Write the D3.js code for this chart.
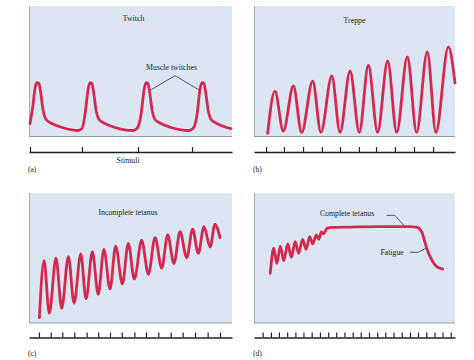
<!DOCTYPE html>
<html><head><meta charset="utf-8">
<script src="https://cdn.jsdelivr.net/npm/d3@7/dist/d3.min.js"></script>
<style>
body{margin:0;background:#fff;}
text{font-family:"Liberation Serif","DejaVu Serif",serif;fill:#222;}
</style>
</head><body>
<svg id="chart" width="474" height="360"></svg>
<script>
// ---- Data (time and tension in relative units, 0-100) ----
const twitchTime = [0.5,2.0,3.0,3.9,4.9,5.9,6.9,8.4,11.3,16.3,21.2,24.1,26.1,27.6,29.1,30.0,31.0,32.0,33.0,34.5,37.4,42.4,47.3,51.2,53.2,55.2,56.7,57.6,58.6,59.6,60.6,62.1,65.0,69.9,74.9,78.8,80.8,82.8,84.2,85.2,86.2,87.2,88.2,89.7,92.6,96.6,99.5];
const twitchTension = [9.9,24.4,37.4,41.2,40.5,32.1,20.6,13.0,9.9,6.9,5.0,4.6,6.1,16.8,35.9,41.2,40.5,32.1,20.6,13.0,9.9,6.9,5.0,4.6,6.1,16.8,35.9,41.2,40.5,32.1,20.6,13.0,9.9,6.9,5.0,4.6,6.1,16.8,35.9,41.2,40.5,32.1,20.6,13.0,9.9,7.3,6.1];
const twitchStimuli = [0.5,26.1,53.7,80.3];

const treppeTime = [6.8,10.4,14.6,19.6,23.7,29.2,33.3,38.7,42.8,47.8,52.4,56.9,61.5,66.5,71.0,76.3,80.9,86.2,90.5,96.7,100];
const treppeTension = [2.5,34.8,4.1,38.7,3.1,42.5,3.1,46.4,3.1,50.2,3.1,54.6,3.1,57.9,3.1,61.0,3.1,64.8,3.1,68.7,41.0];
const treppeStimuli = [6.0,14.9,24.4,33.8,42.8,52.2,60.7,70.1,79.6,89.1];

const incompleteTime = [5.1,7.4,10.0,13.3,16.1,19.4,22.2,25.5,28.1,31.2,34.1,36.9,39.9,42.7,46.0,48.9,51.9,55.5,58.8,62.1,65.4,68.3,71.4,74.4,77.7,80.6,83.4,86.2,89.2,91.6,94.1];
const incompleteTension = [4.1,47.9,7.5,49.8,11.3,51.0,15.2,53.1,18.5,54.8,22.1,56.7,26.2,59.2,30.0,61.3,33.8,63.8,37.5,65.6,42.1,67.7,45.9,70.2,50.2,72.1,53.6,74.1,58.5,75.9,65.6];
const incompleteStimuli = [4.9,10.7,16.4,22.3,28.4,34.1,39.9,45.7,51.9,57.6,63.7,69.8,75.7,81.8,88.0,94.1];

const completeTime = [8.1,9.8,11.4,13.1,14.8,16.8,18.6,20.5,22.2,24.2,25.9,27.7,29.2,31.0,32.2,33.5,34.6,36.3,38.8,47.8,62.7,77.6,80.9,83.4,85.9,88.4,90.9,93.9];
const completeTension = [38.2,57.5,45.9,59.2,47.9,60.8,50.5,62.5,53.6,64.4,56.7,66.4,60.8,67.7,64.4,70.0,68.5,72.8,73.6,73.8,74.1,74.2,73.8,70.2,57.5,48.5,43.3,41.5];
const completeStimuli = [4.3,8.4,12.4,16.5,20.6,24.6,28.7,32.8,36.9,40.9,45.0,49.1,53.1,57.2,61.3,65.3,69.4,73.5,77.6,81.6,85.7,89.8,93.8,97.9];

const panelTitles = ["Twitch","Treppe","Incomplete tetanus","Complete tetanus"];
const panelLetters = ["(a)","(b)","(c)","(d)"];
const axisLabel = "Stimuli";

// ---- Layout ----
const svg = d3.select("#chart");
const layout = [
  {x0:29, x1:232, y0:6, y1:136.5, axisY:152, letterY:171.5, title:[51.5,88.2]},
  {x0:254, x1:455, y0:6, y1:136.5, axisY:152, letterY:171.5, title:[50.0,87.3]},
  {x0:29, x1:232, y0:193, y1:323, axisY:337.5, letterY:355.5, title:[48.8,83.1]},
  {x0:254, x1:455, y0:193, y1:323, axisY:337.5, letterY:355.5, title:[46.3,82.3]}
];
const series = [
  [twitchTime, twitchTension, twitchStimuli],
  [treppeTime, treppeTension, treppeStimuli],
  [incompleteTime, incompleteTension, incompleteStimuli],
  [completeTime, completeTension, completeStimuli]
];
const curveColor = "#d22a4f";

const scales = layout.map((p,i) => {
  const x = d3.scaleLinear().domain([0,100]).range([p.x0,p.x1]);
  const y = d3.scaleLinear().domain([0,100]).range([p.y1,p.y0]);
  const g = svg.append("g");
  g.append("rect").attr("x",p.x0).attr("y",p.y0).attr("width",p.x1-p.x0).attr("height",p.y1-p.y0)
    .attr("fill","#dce6f3");
  g.append("line").attr("x1",p.x0+0.5).attr("x2",p.x0+0.5).attr("y1",p.y0).attr("y2",p.y1)
    .attr("stroke","#a3adb8").attr("stroke-width",1);
  g.append("line").attr("x1",p.x0).attr("x2",p.x1).attr("y1",p.y1).attr("y2",p.y1)
    .attr("stroke","#8e98a3").attr("stroke-width",1.2);

  const [ts, vs, stim] = series[i];
  const pts = d3.zip(ts, vs);
  g.append("path").datum(pts)
    .attr("d", d3.line().x(d=>x(d[0])).y(d=>y(d[1])).curve(d3.curveMonotoneX))
    .attr("fill","none").attr("stroke",curveColor).attr("stroke-width",2.8)
    .attr("stroke-linejoin","round").attr("stroke-linecap","round");

  const ax = g.append("g").attr("transform",`translate(0,${p.axisY})`)
    .call(d3.axisTop(x).tickValues(stim).tickSizeInner(5).tickSizeOuter(0).tickFormat(""));
  ax.select(".domain").attr("stroke","#222").attr("stroke-width",1.6);
  ax.selectAll(".tick line").attr("stroke","#222").attr("stroke-width",1.2);

  g.append("text").attr("x",x(p.title[0])).attr("y",y(p.title[1])).attr("text-anchor","middle")
    .attr("font-size",7.8).text(panelTitles[i]);
  g.append("text").attr("x",p.x0-1).attr("y",p.letterY).attr("font-size",7.5).text(panelLetters[i]);
  return {x,y,g};
});

// Stimuli label (a)
svg.append("text").attr("x",scales[0].x(48.8)).attr("y",162.5).attr("text-anchor","middle")
  .attr("font-size",7.8).text(axisLabel);

// Annotations
const leaderLine = d3.line();
{
  const {x,y,g} = scales[0];
  g.append("text").attr("x",x(70.2)).attr("y",y(51.1)).attr("text-anchor","middle").attr("font-size",7.8).text("Muscle twitches");
  g.append("path").attr("d",leaderLine([[x(59.6),y(35.3)],[x(71.9),y(46.6)],[x(84.2),y(35.3)]]))
    .attr("fill","none").attr("stroke","#4a5560").attr("stroke-width",1);
}
{
  const {x,y,g} = scales[3];
  g.append("text").attr("x",x(68.7)).attr("y",y(52.3)).attr("text-anchor","middle").attr("font-size",7.8).text("Fatigue");
  g.append("path").attr("d",leaderLine([[x(66.0),y(82.8)],[x(70.1),y(82.8)],[x(74.6),y(75.0)]]))
    .attr("fill","none").attr("stroke","#4a5560").attr("stroke-width",1);
  g.append("path").attr("d",leaderLine([[x(77.6),y(54.4)],[x(81.7),y(54.4)],[x(85.4),y(57.5)]]))
    .attr("fill","none").attr("stroke","#4a5560").attr("stroke-width",1);
}
</script>
</body></html>
